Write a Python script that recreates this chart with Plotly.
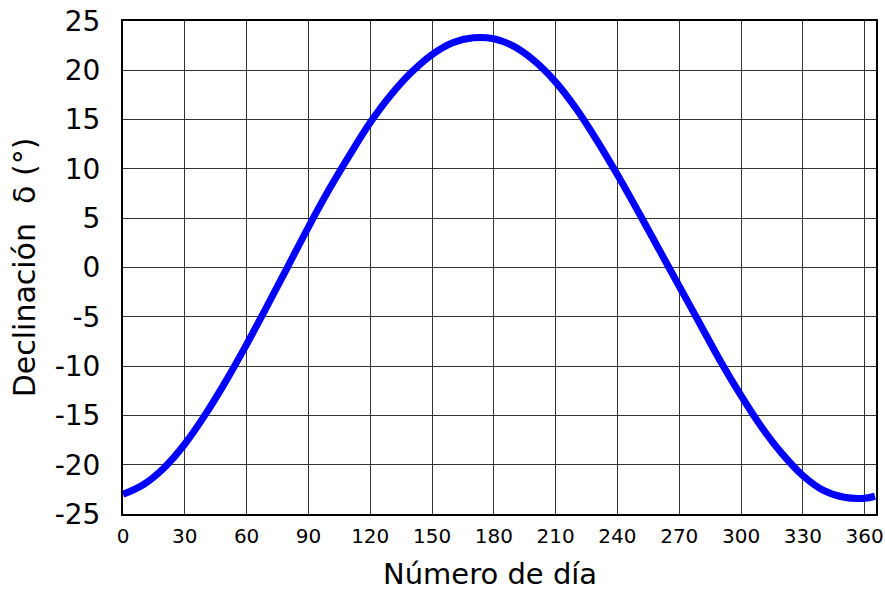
import plotly.graph_objects as go

# Day number and solar declination (degrees)
days = [0, 10, 20, 30, 40, 50, 60, 70, 80, 90, 100, 110, 120, 130, 140, 150,
        160, 170, 180, 190, 200, 210, 220, 230, 240, 250, 260, 270, 280, 290,
        300, 310, 320, 330, 340, 350, 360, 365]
declination = [-23.0, -22.0, -20.3, -17.9, -14.9, -11.5, -7.8, -3.9, 0.1, 4.1,
               7.9, 11.4, 14.7, 17.5, 19.8, 21.6, 22.8, 23.3, 23.2, 22.4, 20.9,
               18.8, 16.1, 12.9, 9.4, 5.7, 1.9, -1.9, -5.7, -9.5, -13.0, -16.2,
               -18.9, -21.1, -22.6, -23.3, -23.4, -23.2]

x_ticks = [0, 30, 60, 90, 120, 150, 180, 210, 240, 270, 300, 330, 360]
y_ticks = [-25, -20, -15, -10, -5, 0, 5, 10, 15, 20, 25]
y_tick_text = ["-25", "-20", "-15", "-10", "-5", "0", "5", "10", "15", "20", "25"]
x_title = "Número de día"
y_title = "Declinación  δ (°)"

fig = go.Figure()
fig.add_trace(go.Scatter(
    x=days, y=declination, mode="lines",
    line=dict(color="#0000ff", width=7, shape="spline", smoothing=1.0),
    showlegend=False, hoverinfo="skip"))

font_family = "DejaVu Sans"
fig.update_layout(
    width=885, height=592,
    margin=dict(l=123, r=9, t=21, b=78),
    paper_bgcolor="white", plot_bgcolor="white",
    font=dict(family=font_family, color="black"),
    xaxis=dict(
        range=[0, 365.5], tickvals=x_ticks, ticktext=[str(v) for v in x_ticks],
        showgrid=True, gridcolor="#333333", gridwidth=1,
        showline=True, linecolor="black", linewidth=2, mirror=True,
        zeroline=False, ticks="", ticklabelstandoff=3, ticklabeloverflow="allow",
        automargin=False,
        tickfont=dict(size=20, family=font_family),
    ),
    yaxis=dict(
        range=[-25, 25], tickvals=y_ticks, ticktext=y_tick_text,
        showgrid=True, gridcolor="#333333", gridwidth=1,
        showline=True, linecolor="black", linewidth=2, mirror=True,
        zeroline=False, ticks="", ticklabelstandoff=15, ticklabeloverflow="allow",
        automargin=False,
        tickfont=dict(size=28, family=font_family),
        title=dict(text=y_title, font=dict(size=30, family=font_family), standoff=10),
    ),
    annotations=[dict(
        text=x_title, xref="paper", yref="paper", x=0.488, y=-0.1217,
        xanchor="center", yanchor="middle", showarrow=False, borderpad=0,
        font=dict(size=29, family=font_family, color="black"))],
)

fig.write_html("out.html", config={"displayModeBar": False},
               post_script="document.body.style.margin='0';document.body.style.overflow='hidden';")
